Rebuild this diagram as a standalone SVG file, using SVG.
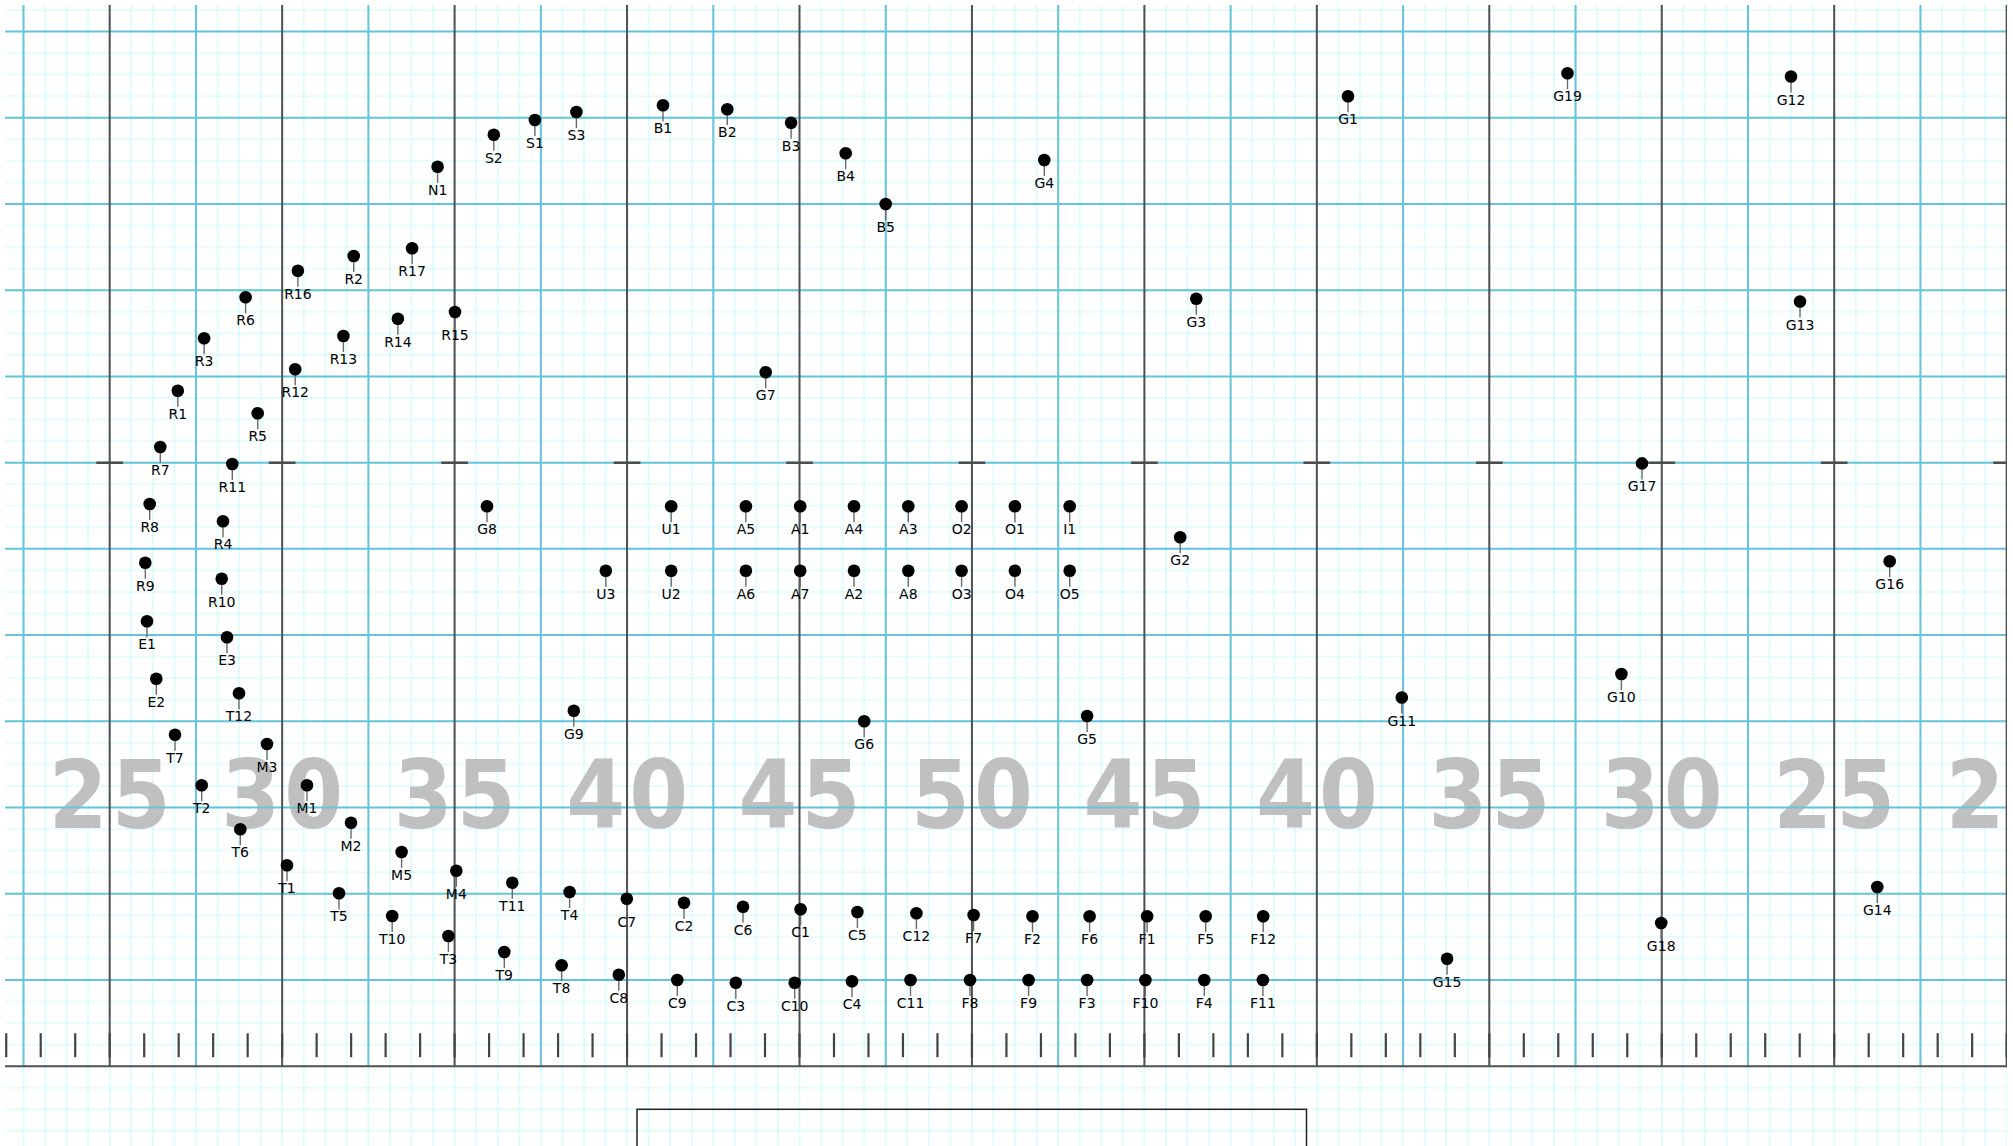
<svg xmlns="http://www.w3.org/2000/svg" xmlns:xlink="http://www.w3.org/1999/xlink" width="2013" height="1146" viewBox="0 0 2013 1146">
<style>
.yn{font-family:"DejaVu Sans Condensed","DejaVu Sans","Liberation Sans",sans-serif;font-stretch:condensed;font-weight:bold;font-size:94px;fill:#c0c0c0;text-anchor:middle}
.lbl{font-family:"DejaVu Sans","Liberation Sans",sans-serif;font-size:14px;fill:#000;text-anchor:middle}
.blue{stroke:#66c3dc;stroke-width:2;fill:none}
.dark{stroke:#505050;stroke-width:2;fill:none}
.stem{stroke:#6a6a6a;stroke-width:1.4}
</style>
<defs>
<clipPath id="field"><rect x="5" y="5" width="2002" height="1141"/></clipPath>
<pattern id="minor" x="98.922" y="1055.422" width="21.556" height="21.556" patternUnits="userSpaceOnUse">
<path d="M10.778 0V21.556M0 10.778H21.556" stroke="#cdfbfb" stroke-width="1.2" fill="none"/>
</pattern>
<g id="pin"><line class="stem" x1="0" y1="0" x2="0" y2="16"/><circle r="6.3" fill="#000"/></g>
</defs>
<rect width="2013" height="1146" fill="#fff"/>
<g id="grid" clip-path="url(#field)">
<rect x="5" y="5" width="2002" height="1141" fill="url(#minor)"/>
<g id="yard-numbers">
<text class="yn" x="78.2 141.2" y="828">25</text>
<text class="yn" x="250.65 313.65" y="828">30</text>
<text class="yn" x="423.1 486.1" y="828">35</text>
<text class="yn" x="595.55 658.55" y="828">40</text>
<text class="yn" x="768 831" y="828">45</text>
<text class="yn" x="940.45 1003.45" y="828">50</text>
<text class="yn" x="1112.9 1175.9" y="828">45</text>
<text class="yn" x="1285.35 1348.35" y="828">40</text>
<text class="yn" x="1457.8 1520.8" y="828">35</text>
<text class="yn" x="1630.25 1693.25" y="828">30</text>
<text class="yn" x="1802.7 1865.7" y="828">25</text>
<text class="yn" x="1975.15 2038.15" y="828">20</text>
</g>
<path class="blue" d="M5 31.51H2007M5 117.74H2007M5 203.96H2007M5 290.18H2007M5 376.41H2007M5 462.63H2007M5 548.86H2007M5 635.08H2007M5 721.3H2007M5 807.53H2007M5 893.75H2007M5 979.98H2007
M23.5 5V1066.2M195.95 5V1066.2M368.4 5V1066.2M540.85 5V1066.2M713.3 5V1066.2M885.75 5V1066.2M1058.2 5V1066.2M1230.65 5V1066.2M1403.1 5V1066.2M1575.55 5V1066.2M1748 5V1066.2M1920.45 5V1066.2"/>
<path class="dark" d="M109.7 5V1066.2M282.15 5V1066.2M454.6 5V1066.2M627.05 5V1066.2M799.5 5V1066.2M971.95 5V1066.2M1144.4 5V1066.2M1316.85 5V1066.2M1489.3 5V1066.2M1661.75 5V1066.2M1834.2 5V1066.2M2006.65 5V1066.2M5 1066.2H2007"/>
<line id="hashes" x1="96.35" y1="462.63" x2="2020" y2="462.63" stroke="#4d4d4d" stroke-width="2.5" stroke-dasharray="26.7 145.75"/>
<line id="ticks" x1="5.13" y1="1045.3" x2="2008" y2="1045.3" stroke="#444" stroke-width="24" stroke-dasharray="2.2 32.29"/>
</g>
<rect id="box" x="637" y="1109.3" width="669.5" height="60" fill="none" stroke="#222" stroke-width="1.5"/>
<g id="nodes">
<g id="S2" transform="translate(493.8,134.7)"><use xlink:href="#pin"/><text class="lbl" y="28">S2</text></g>
<g id="S1" transform="translate(534.9,120)"><use xlink:href="#pin"/><text class="lbl" y="28">S1</text></g>
<g id="S3" transform="translate(576.4,112)"><use xlink:href="#pin"/><text class="lbl" y="28">S3</text></g>
<g id="B1" transform="translate(663,105.3)"><use xlink:href="#pin"/><text class="lbl" y="28">B1</text></g>
<g id="B2" transform="translate(727.3,109.3)"><use xlink:href="#pin"/><text class="lbl" y="28">B2</text></g>
<g id="B3" transform="translate(791.1,122.7)"><use xlink:href="#pin"/><text class="lbl" y="28">B3</text></g>
<g id="B4" transform="translate(845.7,153.3)"><use xlink:href="#pin"/><text class="lbl" y="28">B4</text></g>
<g id="B5" transform="translate(885.7,204)"><use xlink:href="#pin"/><text class="lbl" y="28">B5</text></g>
<g id="N1" transform="translate(437.6,166.7)"><use xlink:href="#pin"/><text class="lbl" y="28">N1</text></g>
<g id="G4" transform="translate(1044.3,160)"><use xlink:href="#pin"/><text class="lbl" y="28">G4</text></g>
<g id="G1" transform="translate(1348,96.3)"><use xlink:href="#pin"/><text class="lbl" y="28">G1</text></g>
<g id="G19" transform="translate(1567.5,73.2)"><use xlink:href="#pin"/><text class="lbl" y="28">G19</text></g>
<g id="G12" transform="translate(1791,76.5)"><use xlink:href="#pin"/><text class="lbl" y="28">G12</text></g>
<g id="R2" transform="translate(353.7,256)"><use xlink:href="#pin"/><text class="lbl" y="28">R2</text></g>
<g id="R17" transform="translate(412.1,248.3)"><use xlink:href="#pin"/><text class="lbl" y="28">R17</text></g>
<g id="R16" transform="translate(297.9,270.7)"><use xlink:href="#pin"/><text class="lbl" y="28">R16</text></g>
<g id="R6" transform="translate(245.6,297.3)"><use xlink:href="#pin"/><text class="lbl" y="28">R6</text></g>
<g id="G3" transform="translate(1196.3,298.7)"><use xlink:href="#pin"/><text class="lbl" y="28">G3</text></g>
<g id="G13" transform="translate(1800,301.5)"><use xlink:href="#pin"/><text class="lbl" y="28">G13</text></g>
<g id="R14" transform="translate(397.9,318.7)"><use xlink:href="#pin"/><text class="lbl" y="28">R14</text></g>
<g id="R15" transform="translate(455,312)"><use xlink:href="#pin"/><text class="lbl" y="28">R15</text></g>
<g id="R13" transform="translate(343.4,336)"><use xlink:href="#pin"/><text class="lbl" y="28">R13</text></g>
<g id="R3" transform="translate(204.1,338.3)"><use xlink:href="#pin"/><text class="lbl" y="28">R3</text></g>
<g id="R12" transform="translate(295.2,369.3)"><use xlink:href="#pin"/><text class="lbl" y="28">R12</text></g>
<g id="G7" transform="translate(765.7,372.2)"><use xlink:href="#pin"/><text class="lbl" y="28">G7</text></g>
<g id="R1" transform="translate(177.8,390.7)"><use xlink:href="#pin"/><text class="lbl" y="28">R1</text></g>
<g id="R5" transform="translate(257.7,413.3)"><use xlink:href="#pin"/><text class="lbl" y="28">R5</text></g>
<g id="R7" transform="translate(160.3,447)"><use xlink:href="#pin"/><text class="lbl" y="28">R7</text></g>
<g id="R11" transform="translate(232.3,464)"><use xlink:href="#pin"/><text class="lbl" y="28">R11</text></g>
<g id="G17" transform="translate(1642,463.4)"><use xlink:href="#pin"/><text class="lbl" y="28">G17</text></g>
<g id="R8" transform="translate(149.7,504)"><use xlink:href="#pin"/><text class="lbl" y="28">R8</text></g>
<g id="G8" transform="translate(487,506.3)"><use xlink:href="#pin"/><text class="lbl" y="28">G8</text></g>
<g id="U1" transform="translate(671.2,506.3)"><use xlink:href="#pin"/><text class="lbl" y="28">U1</text></g>
<g id="A5" transform="translate(745.9,506.3)"><use xlink:href="#pin"/><text class="lbl" y="28">A5</text></g>
<g id="A1" transform="translate(800.2,506.3)"><use xlink:href="#pin"/><text class="lbl" y="28">A1</text></g>
<g id="A4" transform="translate(854,506.3)"><use xlink:href="#pin"/><text class="lbl" y="28">A4</text></g>
<g id="A3" transform="translate(908.3,506.3)"><use xlink:href="#pin"/><text class="lbl" y="28">A3</text></g>
<g id="O2" transform="translate(961.6,506.3)"><use xlink:href="#pin"/><text class="lbl" y="28">O2</text></g>
<g id="O1" transform="translate(1014.9,506.3)"><use xlink:href="#pin"/><text class="lbl" y="28">O1</text></g>
<g id="I1" transform="translate(1069.7,506.3)"><use xlink:href="#pin"/><text class="lbl" y="28">I1</text></g>
<g id="R4" transform="translate(223,521.3)"><use xlink:href="#pin"/><text class="lbl" y="28">R4</text></g>
<g id="G2" transform="translate(1180.2,537.3)"><use xlink:href="#pin"/><text class="lbl" y="28">G2</text></g>
<g id="R9" transform="translate(145.3,562.7)"><use xlink:href="#pin"/><text class="lbl" y="28">R9</text></g>
<g id="G16" transform="translate(1889.7,561.2)"><use xlink:href="#pin"/><text class="lbl" y="28">G16</text></g>
<g id="U3" transform="translate(605.8,570.7)"><use xlink:href="#pin"/><text class="lbl" y="28">U3</text></g>
<g id="U2" transform="translate(671.2,570.7)"><use xlink:href="#pin"/><text class="lbl" y="28">U2</text></g>
<g id="A6" transform="translate(745.9,570.7)"><use xlink:href="#pin"/><text class="lbl" y="28">A6</text></g>
<g id="A7" transform="translate(800.2,570.7)"><use xlink:href="#pin"/><text class="lbl" y="28">A7</text></g>
<g id="A2" transform="translate(854,570.7)"><use xlink:href="#pin"/><text class="lbl" y="28">A2</text></g>
<g id="A8" transform="translate(908.3,570.7)"><use xlink:href="#pin"/><text class="lbl" y="28">A8</text></g>
<g id="O3" transform="translate(961.6,570.7)"><use xlink:href="#pin"/><text class="lbl" y="28">O3</text></g>
<g id="O4" transform="translate(1014.9,570.7)"><use xlink:href="#pin"/><text class="lbl" y="28">O4</text></g>
<g id="O5" transform="translate(1069.7,570.7)"><use xlink:href="#pin"/><text class="lbl" y="28">O5</text></g>
<g id="R10" transform="translate(221.7,578.7)"><use xlink:href="#pin"/><text class="lbl" y="28">R10</text></g>
<g id="E1" transform="translate(147,621.3)"><use xlink:href="#pin"/><text class="lbl" y="28">E1</text></g>
<g id="E3" transform="translate(227,637.3)"><use xlink:href="#pin"/><text class="lbl" y="28">E3</text></g>
<g id="G10" transform="translate(1621.4,674)"><use xlink:href="#pin"/><text class="lbl" y="28">G10</text></g>
<g id="E2" transform="translate(156.3,678.7)"><use xlink:href="#pin"/><text class="lbl" y="28">E2</text></g>
<g id="T12" transform="translate(239,693.3)"><use xlink:href="#pin"/><text class="lbl" y="28">T12</text></g>
<g id="G11" transform="translate(1401.8,697.5)"><use xlink:href="#pin"/><text class="lbl" y="28">G11</text></g>
<g id="G9" transform="translate(573.8,710.7)"><use xlink:href="#pin"/><text class="lbl" y="28">G9</text></g>
<g id="G5" transform="translate(1087.1,716)"><use xlink:href="#pin"/><text class="lbl" y="28">G5</text></g>
<g id="G6" transform="translate(864.2,721.3)"><use xlink:href="#pin"/><text class="lbl" y="28">G6</text></g>
<g id="T7" transform="translate(175,734.7)"><use xlink:href="#pin"/><text class="lbl" y="28">T7</text></g>
<g id="M3" transform="translate(267,744)"><use xlink:href="#pin"/><text class="lbl" y="28">M3</text></g>
<g id="T2" transform="translate(201.7,785.3)"><use xlink:href="#pin"/><text class="lbl" y="28">T2</text></g>
<g id="M1" transform="translate(307,785.3)"><use xlink:href="#pin"/><text class="lbl" y="28">M1</text></g>
<g id="M2" transform="translate(351,822.7)"><use xlink:href="#pin"/><text class="lbl" y="28">M2</text></g>
<g id="T6" transform="translate(240.3,829.3)"><use xlink:href="#pin"/><text class="lbl" y="28">T6</text></g>
<g id="M5" transform="translate(401.6,852)"><use xlink:href="#pin"/><text class="lbl" y="28">M5</text></g>
<g id="T1" transform="translate(287,865.3)"><use xlink:href="#pin"/><text class="lbl" y="28">T1</text></g>
<g id="M4" transform="translate(456.3,870.7)"><use xlink:href="#pin"/><text class="lbl" y="28">M4</text></g>
<g id="T11" transform="translate(512.3,882.7)"><use xlink:href="#pin"/><text class="lbl" y="28">T11</text></g>
<g id="G14" transform="translate(1877.3,887)"><use xlink:href="#pin"/><text class="lbl" y="28">G14</text></g>
<g id="T4" transform="translate(569.6,892)"><use xlink:href="#pin"/><text class="lbl" y="28">T4</text></g>
<g id="T5" transform="translate(339,893.3)"><use xlink:href="#pin"/><text class="lbl" y="28">T5</text></g>
<g id="C7" transform="translate(626.8,898.7)"><use xlink:href="#pin"/><text class="lbl" y="28">C7</text></g>
<g id="C2" transform="translate(684,902.7)"><use xlink:href="#pin"/><text class="lbl" y="28">C2</text></g>
<g id="C6" transform="translate(743,906.7)"><use xlink:href="#pin"/><text class="lbl" y="28">C6</text></g>
<g id="C1" transform="translate(800.6,909.3)"><use xlink:href="#pin"/><text class="lbl" y="28">C1</text></g>
<g id="C5" transform="translate(857.4,912)"><use xlink:href="#pin"/><text class="lbl" y="28">C5</text></g>
<g id="C12" transform="translate(916.4,913.3)"><use xlink:href="#pin"/><text class="lbl" y="28">C12</text></g>
<g id="F7" transform="translate(973.6,915)"><use xlink:href="#pin"/><text class="lbl" y="28">F7</text></g>
<g id="F2" transform="translate(1032.5,916.3)"><use xlink:href="#pin"/><text class="lbl" y="28">F2</text></g>
<g id="F6" transform="translate(1089.6,916.3)"><use xlink:href="#pin"/><text class="lbl" y="28">F6</text></g>
<g id="F1" transform="translate(1147.1,916.3)"><use xlink:href="#pin"/><text class="lbl" y="28">F1</text></g>
<g id="F5" transform="translate(1205.7,916.3)"><use xlink:href="#pin"/><text class="lbl" y="28">F5</text></g>
<g id="F12" transform="translate(1263.2,916.3)"><use xlink:href="#pin"/><text class="lbl" y="28">F12</text></g>
<g id="T10" transform="translate(392.2,916)"><use xlink:href="#pin"/><text class="lbl" y="28">T10</text></g>
<g id="G18" transform="translate(1661.2,923)"><use xlink:href="#pin"/><text class="lbl" y="28">G18</text></g>
<g id="T3" transform="translate(448.4,936)"><use xlink:href="#pin"/><text class="lbl" y="28">T3</text></g>
<g id="T9" transform="translate(504.3,952)"><use xlink:href="#pin"/><text class="lbl" y="28">T9</text></g>
<g id="G15" transform="translate(1447.1,958.7)"><use xlink:href="#pin"/><text class="lbl" y="28">G15</text></g>
<g id="T8" transform="translate(561.6,965.3)"><use xlink:href="#pin"/><text class="lbl" y="28">T8</text></g>
<g id="C8" transform="translate(618.8,974.7)"><use xlink:href="#pin"/><text class="lbl" y="28">C8</text></g>
<g id="C9" transform="translate(677.3,980)"><use xlink:href="#pin"/><text class="lbl" y="28">C9</text></g>
<g id="C3" transform="translate(735.8,982.7)"><use xlink:href="#pin"/><text class="lbl" y="28">C3</text></g>
<g id="C10" transform="translate(794.7,982.7)"><use xlink:href="#pin"/><text class="lbl" y="28">C10</text></g>
<g id="C4" transform="translate(852,981.3)"><use xlink:href="#pin"/><text class="lbl" y="28">C4</text></g>
<g id="C11" transform="translate(910.5,980)"><use xlink:href="#pin"/><text class="lbl" y="28">C11</text></g>
<g id="F8" transform="translate(970,980)"><use xlink:href="#pin"/><text class="lbl" y="28">F8</text></g>
<g id="F9" transform="translate(1028.6,980)"><use xlink:href="#pin"/><text class="lbl" y="28">F9</text></g>
<g id="F3" transform="translate(1087.1,980)"><use xlink:href="#pin"/><text class="lbl" y="28">F3</text></g>
<g id="F10" transform="translate(1145.4,980)"><use xlink:href="#pin"/><text class="lbl" y="28">F10</text></g>
<g id="F4" transform="translate(1204.3,980)"><use xlink:href="#pin"/><text class="lbl" y="28">F4</text></g>
<g id="F11" transform="translate(1262.9,980)"><use xlink:href="#pin"/><text class="lbl" y="28">F11</text></g>
</g>
</svg>
